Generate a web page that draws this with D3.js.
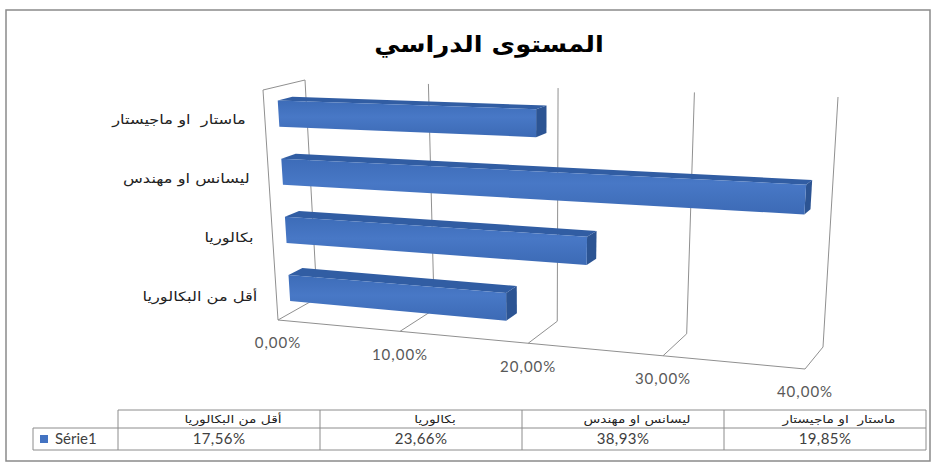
<!DOCTYPE html>
<html>
<head>
<meta charset="utf-8">
<script src="https://cdn.jsdelivr.net/npm/d3@7"></script>
<style>
  body { margin: 0; background: #fff; }
  svg { display: block; }
  .ar { font-family: "DejaVu Sans", sans-serif; white-space: pre; }
  .lat { font-family: Lato, "Open Sans", sans-serif; }
</style>
</head>
<body>
<svg id="chart" width="936" height="465"></svg>
<script>
// ---- data ----
const title = "المستوى الدراسي";
const categories = ["أقل من البكالوريا", "بكالوريا", "ليسانس او مهندس", "ماستار  او ماجيستار"];
const values = [0.1756, 0.2366, 0.3893, 0.1985];
const seriesName = "Série1";
const valueTicks = [0, 0.1, 0.2, 0.3, 0.4];

// ---- formatting (comma decimal) ----
const locale = d3.formatLocale({ decimal: ",", thousands: " ", grouping: [3], currency: ["", " €"], percent: "%" });
const pct = locale.format(".2%");

const svg = d3.select("#chart");
const W = 936, H = 465;

// soft vertical shading for the bar fronts
const grad = svg.append("defs").append("linearGradient").attr("id", "barFront")
  .attr("x1", 0).attr("y1", 0).attr("x2", 0).attr("y2", 1);
grad.append("stop").attr("offset", "0%").attr("stop-color", "#3d6cb8");
grad.append("stop").attr("offset", "45%").attr("stop-color", "#4878c6");
grad.append("stop").attr("offset", "100%").attr("stop-color", "#3c6ab5");

// place a text at (px, py) with a horizontal stretch
const placed = (sel, px, py, sx) => sel.attr("transform", (d, i) =>
  `translate(${typeof px === "function" ? px(d, i) : px},${typeof py === "function" ? py(d, i) : py}) scale(${sx},1)`);

// outer chart frame
svg.append("rect").attr("x", 6).attr("y", 10).attr("width", 924).attr("height", 451)
  .attr("fill", "#fff").attr("stroke", "#8a8a8a").attr("stroke-width", 1.5);

// title
placed(svg.append("text").attr("class", "ar")
  .attr("text-anchor", "middle").attr("font-size", 23).attr("font-weight", "bold")
  .attr("fill", "#000").text(title), 489, 52, 1.12);

// ---- 3D box projection ----
// screen positions of the plot box corners: f/b = front/back, b/t = bottom/top, l/r = left/right
const box = {
  fbl: [278, 320], fbr: [805, 369], bbl: [317, 298], bbr: [823, 347],
  ftl: [263, 90],  ftr: [822, 106], btl: [305, 80],  btr: [838, 97]
};
const lerp = (a, b, t) => [a[0] + (b[0] - a[0]) * t, a[1] + (b[1] - a[1]) * t];
const x = d3.scaleLinear().domain([0, 0.4]).range([0, 1]);
const y = d3.scaleBand().domain(categories).range([0, 0.99]).paddingInner(0.55).paddingOuter(0.2);
const persp = -0.096;                                  // foreshortening along the value axis
const warp = u => (1 + persp) * u / (1 + persp * u);
function project(v, h, d) {
  const u = warp(x(v));
  const bot = lerp(lerp(box.fbl, box.fbr, u), lerp(box.bbl, box.bbr, u), d);
  const top = lerp(lerp(box.ftl, box.ftr, u), lerp(box.btl, box.btr, u), d);
  return lerp(bot, top, h);
}
const poly = pts => "M" + pts.map(p => p[0].toFixed(2) + "," + p[1].toFixed(2)).join("L") + "Z";
const seg = (a, b) => "M" + a[0] + "," + a[1] + "L" + b[0] + "," + b[1];

const grid = svg.append("g").attr("fill", "none").attr("stroke", "#909090").attr("stroke-width", 1);
// side wall outline
grid.append("path").attr("d", seg(box.ftl, box.btl));
grid.append("path").attr("d", seg(box.ftl, box.fbl));
// floor front edge
grid.append("path").attr("d", seg(project(0, 0, 0), project(0.4, 0, 0)));
// value gridlines on floor and back wall
valueTicks.forEach(v => {
  grid.append("path").attr("d", seg(project(v, 0, 0), project(v, 0, 1)));
  grid.append("path").attr("d", seg(project(v, 0, 1), project(v, 1, 1)));
});

// value tick labels along the front floor edge
svg.append("g").selectAll("text").data(valueTicks).join("text")
  .attr("class", "lat").attr("font-size", 15).attr("fill", "#595959")
  .attr("text-anchor", "middle").attr("letter-spacing", 1)
  .attr("x", v => project(v, 0, 0)[0])
  .attr("y", v => project(v, 0, 0)[1] + 23).attr("dy", "0.35em")
  .text(v => pct(v));

// category labels beside the side wall
placed(svg.append("g").selectAll("text").data(categories).join("text")
  .attr("class", "ar").attr("font-size", 13).attr("fill", "#222")
  .attr("text-anchor", "end").attr("dy", "0.35em")
  .text(c => c),
  c => project(0, y(c) + y.bandwidth() / 2, 0)[0] - 19,
  c => project(0, y(c) + y.bandwidth() / 2, 0)[1] + 2, 1.25);

// ---- bars ----
const d0 = 0.33, d1 = 0.68;
const bars = svg.append("g");
categories.forEach((c, i) => {
  const v = values[i];
  const h0 = y(c), h1 = y(c) + y.bandwidth();
  const g = bars.append("g");
  // right end face
  g.append("path").attr("fill", "#2c5493")
    .attr("d", poly([project(v, h0, d0), project(v, h1, d0), project(v, h1, d1), project(v, h0, d1)]));
  // top face
  g.append("path").attr("fill", "#315da3")
    .attr("d", poly([project(0, h1, d0), project(v, h1, d0), project(v, h1, d1), project(0, h1, d1)]));
  // front face
  g.append("path").attr("fill", "url(#barFront)")
    .attr("d", poly([project(0, h0, d0), project(v, h0, d0), project(v, h1, d0), project(0, h1, d0)]));
});

// ---- data table ----
const tbl = { left: 118, right: 926, top: 410, mid: 428, bottom: 450, keyLeft: 33 };
const col = d3.scaleBand().domain(categories).range([tbl.left, tbl.right]);
const t = svg.append("g");
const line = t.append("g").attr("stroke", "#8c8c8c").attr("stroke-width", 1).attr("fill", "none");
line.append("path").attr("d", seg([tbl.left, tbl.top], [tbl.right, tbl.top]));
line.append("path").attr("d", seg([tbl.keyLeft, tbl.mid], [tbl.right, tbl.mid]));
line.append("path").attr("d", seg([tbl.keyLeft, tbl.bottom], [tbl.right, tbl.bottom]));
line.append("path").attr("d", seg([tbl.keyLeft, tbl.mid], [tbl.keyLeft, tbl.bottom]));
[tbl.left, ...categories.map(c => col(c) + col.bandwidth())].forEach(xp =>
  line.append("path").attr("d", seg([xp, tbl.top], [xp, tbl.bottom])));

placed(t.selectAll("text.hd").data(categories).join("text").attr("class", "ar hd")
  .attr("font-size", 11).attr("fill", "#222").attr("text-anchor", "middle").attr("dy", "0.35em")
  .text(c => c),
  c => col(c) + col.bandwidth() / 2 + 14, (tbl.top + tbl.mid) / 2, 1.25);
t.selectAll("text.val").data(categories).join("text").attr("class", "lat val")
  .attr("font-size", 15).attr("fill", "#404040").attr("text-anchor", "middle").attr("letter-spacing", 0.4)
  .attr("x", c => col(c) + col.bandwidth() / 2)
  .attr("y", (tbl.mid + tbl.bottom) / 2).attr("dy", "0.35em")
  .text((c, i) => pct(values[i]));

// legend key
t.append("rect").attr("x", tbl.keyLeft + 7).attr("y", (tbl.mid + tbl.bottom) / 2 - 4)
  .attr("width", 8).attr("height", 8).attr("fill", "#4373c2");
t.append("text").attr("class", "lat").attr("font-size", 15).attr("fill", "#404040")
  .attr("x", tbl.keyLeft + 22).attr("y", (tbl.mid + tbl.bottom) / 2).attr("dy", "0.35em")
  .text(seriesName);
</script>
</body>
</html>
